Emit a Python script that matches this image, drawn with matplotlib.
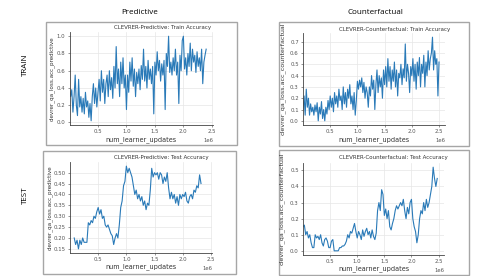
import numpy as np
import matplotlib
matplotlib.use("Agg")
import matplotlib.pyplot as plt
from matplotlib.patches import Rectangle

# train, predictive (x in millions of updates, step 0.02)
train_pred_x = np.linspace(0.0, 2.4, 121)
train_pred = [0.40, 0.30, 0.38, 0.12, 0.30, 0.55, 0.20, 0.08, 0.50, 0.18, 0.30,
              0.12, 0.28, 0.10, 0.35, 0.18, 0.25, 0.06, 0.22, 0.02, 0.30,
              0.45, 0.22, 0.40, 0.18, 0.35, 0.50, 0.25, 0.60, 0.35, 0.50,
              0.22, 0.45, 0.55, 0.30, 0.60, 0.38, 0.52, 0.28, 0.65, 0.40,
              0.88, 0.45, 0.62, 0.30, 0.70, 0.45, 0.75, 0.40, 0.55, 0.15,
              0.55, 0.35, 0.70, 0.48, 0.75, 0.42, 0.62, 0.30, 0.58, 0.45,
              0.62, 0.38, 0.66, 0.50, 0.85, 0.48, 0.65, 0.40, 0.72, 0.50,
              0.62, 0.45, 0.65, 0.10, 0.70, 0.55, 0.82, 0.60, 0.72, 0.48,
              0.68, 0.55, 0.72, 0.15, 0.80, 0.65, 1.00, 0.58, 0.70, 0.55,
              0.75, 0.60, 0.85, 0.55, 0.70, 0.22, 0.78, 0.60, 0.95, 1.00,
              0.62, 0.75, 0.55, 0.80, 0.65, 0.92, 0.60, 0.85, 0.70, 0.78,
              0.58, 0.82, 0.65, 0.75, 0.60, 0.85, 0.45, 0.70, 0.78, 0.85]

# train, counterfactual
train_cf_x = np.linspace(0.0, 2.5, 126)
train_cf = [0.10, 0.22, 0.05, 0.28, 0.12, 0.20, 0.05, 0.15, 0.08, 0.12,
            0.05, 0.14, 0.08, 0.16, 0.00, 0.12, 0.06, 0.17, 0.02, 0.10,
            0.00, 0.12, 0.06, 0.18, 0.10, 0.22, 0.12, 0.20, 0.08, 0.25,
            0.15, 0.22, 0.12, 0.28, 0.18, 0.22, 0.10, 0.30, 0.15, 0.25,
            0.12, 0.28, 0.20, 0.32, 0.15, 0.22, 0.10, 0.25, 0.05, 0.18,
            0.35, 0.28, 0.36, 0.30, 0.38, 0.25, 0.34, 0.20, 0.30, 0.25,
            0.12, 0.30, 0.22, 0.40, 0.28, 0.36, 0.10, 0.32, 0.45, 0.25,
            0.40, 0.30, 0.38, 0.20, 0.45, 0.32, 0.48, 0.30, 0.55, 0.35,
            0.48, 0.28, 0.45, 0.35, 0.52, 0.30, 0.45, 0.22, 0.42, 0.38,
            0.50, 0.32, 0.46, 0.38, 0.68, 0.35, 0.50, 0.42, 0.25, 0.48,
            0.40, 0.55, 0.35, 0.50, 0.28, 0.52, 0.40, 0.56, 0.30, 0.50,
            0.42, 0.58, 0.30, 0.52, 0.40, 0.62, 0.45, 0.55, 0.60, 0.74,
            0.45, 0.62, 0.50, 0.55, 0.22, 0.52]

# test, predictive
test_pred_x = np.linspace(0.075, 2.325, 91)
test_pred = [0.20, 0.17, 0.19, 0.15, 0.19, 0.17, 0.20, 0.18, 0.18, 0.18,
             0.27, 0.26, 0.28, 0.27, 0.30, 0.29, 0.32, 0.34, 0.31, 0.33,
             0.29, 0.30, 0.26, 0.25, 0.26, 0.24, 0.22, 0.21, 0.17, 0.20,
             0.22, 0.20, 0.26, 0.34, 0.37, 0.44, 0.46, 0.53, 0.50, 0.52,
             0.50, 0.48, 0.44, 0.40, 0.42, 0.38, 0.40, 0.37, 0.39, 0.35,
             0.37, 0.33, 0.36, 0.35, 0.42, 0.52, 0.48, 0.50, 0.49, 0.50,
             0.47, 0.50, 0.49, 0.45, 0.48, 0.46, 0.50, 0.43, 0.38, 0.41,
             0.38, 0.40, 0.36, 0.39, 0.35, 0.40, 0.38, 0.40, 0.39, 0.41,
             0.37, 0.36, 0.39, 0.40, 0.38, 0.42, 0.41, 0.44, 0.43, 0.49,
             0.45]

# test, counterfactual
test_cf_x = np.linspace(0.0, 2.475, 100)
test_cf = [0.15, 0.16, 0.10, 0.12, 0.08, 0.10, 0.05, 0.02, 0.02, 0.10,
           0.08, 0.09, 0.07, 0.10, 0.05, 0.03, 0.07, 0.08, 0.06, 0.02,
           0.02, 0.06, 0.07, 0.00, 0.00, 0.00, 0.00, 0.02, 0.02, 0.03,
           0.03, 0.04, 0.06, 0.10, 0.08, 0.12, 0.11, 0.14, 0.17, 0.12,
           0.08, 0.12, 0.10, 0.07, 0.13, 0.09, 0.12, 0.14, 0.10, 0.12,
           0.08, 0.13, 0.09, 0.07, 0.11, 0.25, 0.30, 0.25, 0.38, 0.35,
           0.22, 0.26, 0.20, 0.25, 0.15, 0.13, 0.17, 0.20, 0.25, 0.28,
           0.26, 0.28, 0.30, 0.28, 0.32, 0.25, 0.20, 0.27, 0.23, 0.30,
           0.32, 0.20, 0.15, 0.12, 0.05, 0.10, 0.20, 0.25, 0.23, 0.30,
           0.25, 0.32, 0.27, 0.30, 0.35, 0.40, 0.52, 0.45, 0.40, 0.45]

W, H = 491, 276
fig = plt.figure(figsize=(W / 100, H / 100), dpi=100)


def px(x0, y0, x1, y1):
    # pixel box (top-left origin) -> figure fraction rect
    return [x0 / W, 1 - y1 / H, (x1 - x0) / W, (y1 - y0) / H]


def panel(rect, box, x, y, xmax, title, title_x, title_y, ylabel, ylab_x, xlab_y, yticks, lsize):
    fig.patches.append(Rectangle((box[0] / W, 1 - box[3] / H), (box[2] - box[0]) / W,
                                 (box[3] - box[1]) / H, transform=fig.transFigure,
                                 fill=False, edgecolor='#a6a6a6', lw=1.0))
    ax = fig.add_axes(px(*rect))
    ax.plot(np.array(x) * 1e6, y, color='#2a7ab8', lw=0.8)
    ax.set_xlim(0, xmax * 1e6)
    ax.set_xticks([0.5e6, 1.0e6, 1.5e6, 2.0e6, 2.5e6])
    ax.set_yticks(yticks)
    ax.grid(True, color='#e6e6e6', lw=0.5)
    ax.set_axisbelow(True)
    for s in ['top', 'right']:
        ax.spines[s].set_visible(False)
    for s in ['left', 'bottom']:
        ax.spines[s].set_color('#444444')
        ax.spines[s].set_linewidth(0.6)
    ax.tick_params(labelsize=3.9, labelcolor='#555555', length=1.5, width=0.4,
                   color='#444444', pad=1.5)
    ax.xaxis.get_offset_text().set_fontsize(3.8)
    ax.xaxis.get_offset_text().set_color('#555555')
    fig.text(title_x / W, 1 - title_y / H, title, ha='right', va='center',
             fontsize=4.0, color='#333333')
    fig.text(ylab_x / W, 1 - (rect[1] + rect[3]) / 2 / H, ylabel, rotation=90,
             ha='center', va='center', fontsize=lsize, color='#333333')
    fig.text((rect[0] + rect[2]) / 2 / W, 1 - xlab_y / H, 'num_learner_updates',
             ha='center', va='center', fontsize=4.7, color='#333333')
    return ax


panel((69.5, 32, 213, 125), (46, 22, 237, 145), train_pred_x, train_pred, 2.52,
      'CLEVRER-Predictive: Train Accuracy', 211, 27,
      'clevrer_qa_loss.acc_predictive', 52, 140,
      [0.0, 0.2, 0.4, 0.6, 0.8, 1.0], 4.1)
panel((70, 162, 212, 253), (43, 151, 236, 274), test_pred_x, test_pred, 2.52,
      'CLEVRER-Predictive: Test Accuracy', 209, 157,
      'clevrer_qa_loss.acc_predictive', 50, 267,
      [0.15, 0.20, 0.25, 0.30, 0.35, 0.40, 0.45, 0.50], 4.1)
panel((303, 33, 445, 125), (279, 22, 469, 146), train_cf_x, train_cf, 2.61,
      'CLEVRER-Counterfactual: Train Accuracy', 450, 30,
      'clevrer_qa_loss.acc_counterfactual', 283, 140,
      [0.0, 0.1, 0.2, 0.3, 0.4, 0.5, 0.6, 0.7], 4.6)
panel((303, 163, 444, 255), (279, 150, 469, 275), test_cf_x, test_cf, 2.6,
      'CLEVRER-Counterfactual: Test Accuracy', 448, 158,
      'clevrer_qa_loss.acc_counterfactual', 282, 269,
      [0.0, 0.1, 0.2, 0.3, 0.4, 0.5], 4.6)

hfont = ['Open Sans', 'DejaVu Sans']
fig.text(140 / W, 1 - 13 / H, 'Predictive', ha='center', va='center', fontsize=5.8, family=hfont)
fig.text(375 / W, 1 - 13 / H, 'Counterfactual', ha='center', va='center', fontsize=5.8, family=hfont)
fig.text(25 / W, 1 - 65 / H, 'TRAIN', ha='center', va='center', rotation=90, fontsize=5.8, family=hfont)
fig.text(25 / W, 1 - 195 / H, 'TEST', ha='center', va='center', rotation=90, fontsize=5.8, family=hfont)

fig.savefig('out.png', dpi=100)
